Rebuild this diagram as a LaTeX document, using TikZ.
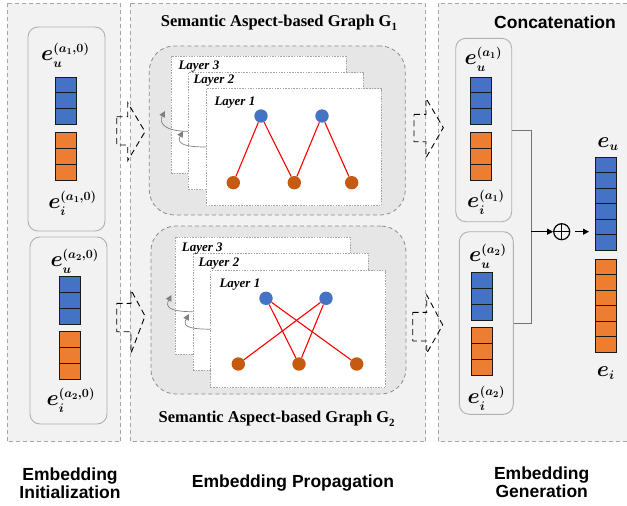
\RequirePackage{fix-cm}
\documentclass[tikz,border=0pt]{standalone}
\usepackage{fontspec}
\setmainfont{Liberation Serif}
\newfontfamily\sansfam{Liberation Sans}
\DeclareMathSizes{22}{22}{12.5}{9}
\usetikzlibrary{arrows.meta,calc}
\definecolor{panelbg}{HTML}{F2F2F2}
\definecolor{panelline}{HTML}{A6A6A6}
\definecolor{boxline}{HTML}{B0B0B0}
\definecolor{graphbg}{HTML}{E6E6E6}
\definecolor{graphline}{HTML}{8C8C8C}
\definecolor{cblue}{HTML}{4472C4}
\definecolor{corange}{HTML}{ED7D31}
\definecolor{nblue}{HTML}{4472C4}
\definecolor{norange}{HTML}{C55A11}
\definecolor{cellline}{HTML}{1A1A1A}
\newcommand{\mybar}[6]{%
  \foreach \k in {1,...,#5}{\draw[cell, fill=#6] (#1,{#2+(\k-1)*#4}) rectangle ++(#3,#4);}}
\begin{document}
\begin{tikzpicture}[x=1pt,y=-1pt,
  panel/.style={draw=panelline, fill=panelbg, dash pattern=on 4pt off 3pt, line width=0.8pt},
  ebox/.style={draw=boxline, fill=panelbg, rounded corners=10pt, line width=0.9pt, inner sep=0pt},
  gbox/.style={draw=graphline, fill=graphbg, rounded corners=25pt, dash pattern=on 4pt off 3pt, line width=0.8pt, inner sep=0pt},
  layer/.style={draw=panelline, fill=white, dash pattern=on 1.5pt off 1.2pt, line width=0.7pt, inner sep=0pt, minimum width=175pt, minimum height=117pt},
  cell/.style={draw=cellline, line width=0.9pt},
  gnode/.style={circle, inner sep=0pt, minimum size=13.4pt},
  edge/.style={red, line width=1.1pt},
  curv/.style={draw=gray, line width=0.7pt, -{Triangle[length=6pt,width=6pt]}},
  hollow/.style={draw=black, line width=0.9pt, dash pattern=on 6pt off 4pt},
  lbl/.style={inner sep=0pt, font=\fontsize{22}{22}\selectfont\boldmath},
  lyr/.style={inner sep=0pt, anchor=west, font=\fontsize{13}{13}\selectfont\bfseries\itshape},
  ttl/.style={inner sep=0pt, font=\fontsize{16.5}{17}\selectfont\bfseries},
  captxt/.style={inner sep=0pt, align=center, font=\fontsize{17.5}{18.4}\selectfont\sansfam\bfseries},
]
\useasboundingbox (0,0) rectangle (627,506);
\fill[white] (0,0) rectangle (627,506);

% panels
\draw[panel] (7,3) rectangle (120.7,441.5);
\draw[panel] (130,3) rectangle (425.7,441.5);
\draw[panel] (438,3) rectangle (640,441.5);

% ---------- Embedding initialization ----------
\node[ebox, minimum width=77pt, minimum height=204pt] (ib1) at (66.5,129) {};
\node[ebox, minimum width=77pt, minimum height=187pt] (ib2) at (68.5,330.5) {};
\mybar{55.7}{77.3}{21}{15.57}{3}{cblue}
\mybar{55.7}{132.7}{21}{15.77}{3}{corange}
\mybar{59.7}{276.7}{21}{15.77}{3}{cblue}
\mybar{59.7}{331.7}{21}{15.87}{3}{corange}
\node[lbl] (lu1) at (65.3,55) {$e_u^{(a_1,0)}$};
\node[lbl] (li1) at (72.5,203) {$e_i^{(a_1,0)}$};
\node[lbl] (lu2) at (74.7,261) {$e_u^{(a_2,0)}$};
\node[lbl] (li2) at (70.8,400.5) {$e_i^{(a_2,0)}$};

% ---------- Embedding propagation ----------
\node[ttl] (t1) at (279,23) {Semantic Aspect-based Graph G\raisebox{-0.22em}{\fontsize{11}{11}\selectfont 1}};
\node[ttl] (t2) at (276.7,419) {Semantic Aspect-based Graph G\raisebox{-0.22em}{\fontsize{11}{11}\selectfont 2}};

\node[gbox, minimum width=256pt, minimum height=169pt] (gb1) at (277.3,130.5) {};
\node[gbox, minimum width=255pt, minimum height=168pt] (gb2) at (278.4,310) {};

% graph 1 layers
\node[layer] (l13) at (258.7,114.4) {};
\node[layer] (l12) at (275.8,131.3) {};
\node[layer] (l11) at (293.4,147) {};
\node[lyr] at (178.3,66.7) {Layer 3};
\node[lyr] at (193.3,81) {Layer 2};
\node[lyr] at (214.3,102.7) {Layer 1};
\draw[curv] (l12.west) .. controls +(-25,0) and +(-6,11) .. (165,111);
\draw[curv] (l11.west) .. controls +(-25,0) and +(-6,11) .. (183,131);
\node[gnode, fill=nblue] (a1) at (261,116) {};
\node[gnode, fill=nblue] (a2) at (322,116) {};
\node[gnode, fill=norange] (a3) at (233.3,182.7) {};
\node[gnode, fill=norange] (a4) at (294.3,182.7) {};
\node[gnode, fill=norange] (a5) at (351.7,182.7) {};
\draw[edge] (a1) -- (a3);
\draw[edge] (a1) -- (a4);
\draw[edge] (a2) -- (a4);
\draw[edge] (a2) -- (a5);

% graph 2 layers
\node[layer] (l23) at (262.5,295.8) {};
\node[layer] (l22) at (280.5,311.7) {};
\node[layer] (l21) at (298.2,329.2) {};
\node[lyr] at (181.7,249) {Layer 3};
\node[lyr] at (198.3,263.3) {Layer 2};
\node[lyr] at (219.3,285) {Layer 1};
\draw[curv] (l22.west) .. controls +(-25,0) and +(-6,11) .. (171.5,295);
\draw[curv] (l21.west) .. controls +(-25,0) and +(-6,11) .. (189,314);
\node[gnode, fill=nblue] (b1) at (266,298.3) {};
\node[gnode, fill=nblue] (b2) at (326,298.3) {};
\node[gnode, fill=norange] (b3) at (238.3,364) {};
\node[gnode, fill=norange] (b4) at (299,364) {};
\node[gnode, fill=norange] (b5) at (356.7,364) {};
\draw[edge] (b1) -- (b4);
\draw[edge] (b1) -- (b5);
\draw[edge] (b2) -- (b3);
\draw[edge] (b2) -- (b4);

% ---------- Embedding generation ----------
\node[captxt] (tc) at (555,22) {Concatenation};
\node[ebox, minimum width=56pt, minimum height=183.4pt] (g1) at (483.7,130) {};
\node[ebox, minimum width=54pt, minimum height=182.6pt] (g2) at (486.3,323) {};
\mybar{470.7}{77.3}{20.3}{15.57}{3}{cblue}
\mybar{470.7}{132.7}{20.3}{15.77}{3}{corange}
\mybar{471.7}{272.3}{20.6}{15.9}{3}{cblue}
\mybar{471.7}{327.7}{20.6}{15.87}{3}{corange}
\node[lbl] (gu1) at (483.3,59.7) {$e_u^{(a_1)}$};
\node[lbl] (gi1) at (485.8,202.5) {$e_i^{(a_1)}$};
\node[lbl] (gu2) at (487.8,256.3) {$e_u^{(a_2)}$};
\node[lbl] (gi2) at (486.3,398) {$e_i^{(a_2)}$};

\mybar{595.7}{157.3}{21}{15.45}{6}{cblue}
\mybar{595.7}{259}{21}{15.55}{6}{corange}
\node[lbl] (eu) at (608,144) {$e_u$};
\node[lbl] (ei) at (605.8,373.3) {$e_i$};

\coordinate (j) at (531,231.7);
\node[circle, draw=black, line width=1.2pt, minimum size=16pt, inner sep=0pt] (op) at (561.7,231.7) {};
\draw[black, line width=1.2pt] (op.north) -- (op.south) (op.west) -- (op.east);
\draw[draw=gray!90!black, line width=0.8pt] (g1.east) -- (g1.east -| j) -- (g2.east -| j) -- (g2.east);
\draw[line width=0.9pt, -{Triangle[length=6pt,width=6pt]}] (j) -- (op.west);
\coordinate (eutip) at (589,231.7);
\draw[line width=0.9pt, -{Triangle[length=6pt,width=6pt]}, shorten <=5pt] (op.east) -- (eutip);

% hollow dashed arrows
\draw[hollow] (116.7,116.7) -- (127.7,116.7) -- (127.7,102.7) -- (145,131.7) -- (127.7,160.7) -- (127.7,145) -- (116.7,145) -- cycle;
\draw[hollow] (414,114.3) -- (426,114.3) -- (426,98.3) -- (443.3,127.7) -- (426,157.7) -- (426,141.7) -- (414,141.7) -- cycle;
\draw[hollow] (116.7,303.3) -- (131,303.3) -- (131,290) -- (145,316) -- (131,353.3) -- (131,331.7) -- (116.7,331.7) -- cycle;
\draw[hollow] (412.7,312.3) -- (426.7,312.3) -- (426.7,295) -- (442.7,325) -- (426.7,353.3) -- (426.7,341) -- (412.7,341) -- cycle;

% captions
\node[captxt] (c1) at (70,483.5) {Embedding\\Initialization};
\node[captxt] (c2) at (293,483.3) {Embedding Propagation};
\node[captxt] (c3) at (541.7,482) {Embedding\\Generation};
\end{tikzpicture}
\end{document}
